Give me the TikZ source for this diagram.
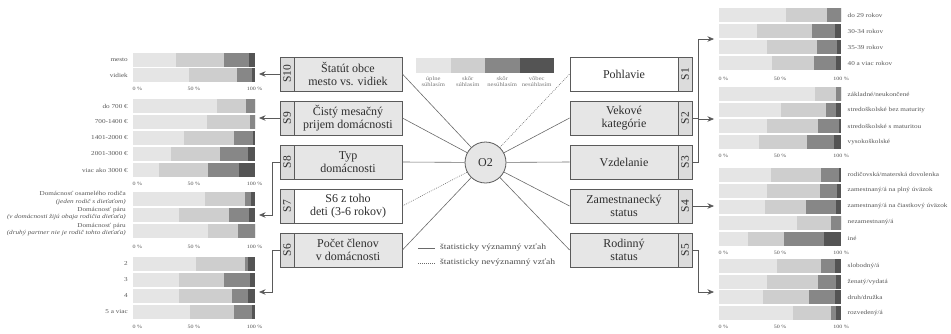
\documentclass[tikz,border=0pt]{standalone}
\usepackage{fontspec}
\usepackage{graphicx}
\setmainfont{Liberation Serif}
\newfontfamily\smallfont[FakeStretch=1.2]{Liberation Serif}
\usetikzlibrary{arrows.meta}
\definecolor{cA}{HTML}{E5E5E5}
\definecolor{cB}{HTML}{CECECE}
\definecolor{cC}{HTML}{878787}
\definecolor{cD}{HTML}{545454}
\definecolor{boxfill}{HTML}{E6E6E6}
\definecolor{colfill}{HTML}{DCDCDC}
\definecolor{edge}{HTML}{5A5A5A}
\definecolor{txt}{HTML}{2E2E2E}
\definecolor{lbl}{HTML}{555555}
\definecolor{lnk}{HTML}{6A6A6A}

\newcommand{\statbar}[7]{%
 \pgfmathsetmacro\sbA{#1+#2*#4/100}%
 \pgfmathsetmacro\sbB{\sbA+#2*#5/100}%
 \pgfmathsetmacro\sbC{\sbB+#2*#6/100}%
 \fill[cA] (#1,#3-7) rectangle (\sbA,#3+7);
 \fill[cB] (\sbA,#3-7) rectangle (\sbB,#3+7);
 \fill[cC] (\sbB,#3-7) rectangle (\sbC,#3+7);
 \fill[cD] (\sbC,#3-7) rectangle ({#1+#2},#3+7);
}
\newcommand{\axislab}[4]{%
 \node[axl,anchor=west] (#4a) at (#1-0.5,#3) {0 \%};
 \node[axl] (#4b) at ({#1+#2/2},#3) {50 \%};
 \node[axl] (#4c) at ({#1+#2},#3) {100 \%};
}
\newcommand{\leftlab}[3]{\node[rl,anchor=east] (#1) at (128,#2) {#3};}
\newcommand{\rightlab}[3]{\node[rl,anchor=west] (#1) at (847.5,#2) {#3};}

\begin{document}
\begin{tikzpicture}[x=1pt,y=-1pt,
  axl/.style={font=\smallfont\fontsize{5}{6}\selectfont,text=lbl,inner sep=0},
  rl/.style={font=\smallfont\fontsize{6}{7.5}\selectfont,text=lbl,inner sep=0},
  mainbox/.style={draw=edge,line width=0.8pt,fill=boxfill,minimum width=108pt,minimum height=34pt,inner sep=0,align=center,font=\fontsize{12}{13}\selectfont,text=txt},
  nsbox/.style={mainbox,fill=white},
  colbox/.style={draw=edge,line width=0.8pt,fill=colfill,minimum width=14pt,minimum height=34pt,inner sep=0,font=\fontsize{11.5}{12}\selectfont,text=txt},
  conn/.style={draw=lnk,line width=0.6pt},
  nsconn/.style={draw=lnk,line width=0.6pt,dash pattern=on 0.8pt off 1.2pt},
  arr/.style={draw=edge,line width=0.7pt,-{Stealth[length=6.5pt,width=5.5pt]}},
  keybox/.style={minimum width=34.5pt,minimum height=15pt,inner sep=0,outer sep=0},
  keylab/.style={font=\smallfont\fontsize{5.5}{5.8}\selectfont,text=lbl!80,align=center,inner sep=0},
  leg/.style={font=\smallfont\fontsize{8}{9}\selectfont,text=lbl!90!black,inner sep=0,anchor=west}]
\useasboundingbox (0,0) rectangle (951,333);

% ---------------- left charts ----------------
% S10
\statbar{133}{121.5}{59.5}{35}{40}{20.5}{4.5}
\statbar{133}{121.5}{75}{46}{40}{12}{2}
\leftlab{m1}{59.5}{mesto}
\leftlab{m2}{75}{vidiek}
\axislab{133}{121.5}{89}{ax10}
% S9
\statbar{133}{121.5}{106}{69}{24}{7}{0}
\statbar{133}{121.5}{122}{61}{35}{4}{0}
\statbar{133}{121.5}{138}{42}{41}{16}{1}
\statbar{133}{121.5}{154}{31}{41}{23}{5}
\statbar{133}{121.5}{170}{21.5}{40.5}{25.5}{12.5}
\leftlab{i1}{106}{do 700 €}
\leftlab{i2}{122}{700-1400 €}
\leftlab{i3}{138}{1401-2000 €}
\leftlab{i4}{154}{2001-3000 €}
\leftlab{i5}{170}{viac ako 3000 €}
\axislab{133}{121.5}{184}{ax9}
% S8
\statbar{133}{121.5}{199}{59.5}{32.5}{5}{3}
\statbar{133}{121.5}{215}{37.5}{41.5}{16.5}{4.5}
\statbar{133}{121.5}{231}{61.5}{25}{13.5}{0}
\node[rl,anchor=east,align=right] (h1) at (126,198) {Domácnosť osamelého rodiča\\\textit{(jeden rodič s dieťaťom)}};
\node[rl,anchor=east,align=right] (h2) at (126,213.5) {Domácnosť páru\\\textit{(v domácnosti žijú obaja rodičia dieťaťa)}};
\node[rl,anchor=east,align=right] (h3) at (126,229.5) {Domácnosť páru\\\textit{(druhý partner nie je rodič tohto dieťaťa)}};
\axislab{133}{121.5}{247}{ax8}
% S6
\statbar{133}{121.5}{264}{51.5}{40.5}{3}{5}
\statbar{133}{121.5}{280}{37.5}{37.5}{21.5}{3.5}
\statbar{133}{121.5}{296}{37.5}{44}{13.5}{5}
\statbar{133}{121.5}{312}{47}{36.5}{14.5}{2}
\leftlab{c1}{264}{2}
\leftlab{c2}{280}{3}
\leftlab{c3}{296}{4}
\leftlab{c4}{312}{5 a viac}
\axislab{133}{121.5}{327}{ax6}

% ---------------- right charts ----------------
% S2 age
\statbar{719}{122}{15}{55}{33.5}{11.5}{0}
\statbar{719}{122}{31}{31.5}{44.5}{19}{5}
\statbar{719}{122}{47}{39.5}{41}{16}{3.5}
\statbar{719}{122}{63}{43.5}{34}{18}{4.5}
\rightlab{g1}{15}{do 29 rokov}
\rightlab{g2}{31}{30-34 rokov}
\rightlab{g3}{47}{35-39 rokov}
\rightlab{g4}{63}{40 a viac rokov}
\axislab{719}{122}{79}{ax2}
% S3 education
\statbar{719}{122}{94}{79}{16.5}{4.5}{0}
\statbar{719}{122}{110}{50.5}{37}{8.5}{4}
\statbar{719}{122}{126}{39}{42.5}{17}{1.5}
\statbar{719}{122}{142}{32.5}{39.5}{22}{6}
\rightlab{e1}{94}{základné/neukončené}
\rightlab{e2}{110}{stredoškolské bez maturity}
\rightlab{e3}{126}{stredoškolské s maturitou}
\rightlab{e4}{142}{vysokoškolské}
\axislab{719}{122}{156}{ax3}
% S4 employment
\statbar{719}{122}{174.5}{43}{40.5}{15}{1.5}
\statbar{719}{122}{190.5}{39.5}{43}{14}{3.5}
\statbar{719}{122}{206.5}{37.5}{33.5}{25}{4}
\statbar{719}{122}{222.5}{64}{28}{8}{0}
\statbar{719}{122}{238.5}{24}{29.5}{32.5}{14}
\rightlab{z1}{174.5}{rodičovská/materská dovolenka}
\rightlab{z2}{190.5}{zamestnaný/á na plný úväzok}
\rightlab{z3}{206.5}{zamestnaný/á na čiastkový úväzok}
\rightlab{z4}{222.5}{nezamestnaný/á}
\rightlab{z5}{238.5}{iné}
\axislab{719}{122}{252.5}{ax4}
% S5 family
\statbar{719}{122}{266}{47.5}{36.5}{11}{5}
\statbar{719}{122}{281.7}{39.5}{41.5}{14.5}{4.5}
\statbar{719}{122}{297.3}{36}{37.5}{21.5}{5}
\statbar{719}{122}{313}{60.5}{31.5}{4}{4}
\rightlab{f1}{266}{slobodný/á}
\rightlab{f2}{281.7}{ženatý/vydatá}
\rightlab{f3}{297.3}{druh/družka}
\rightlab{f4}{313}{rozvedený/á}
\axislab{719}{122}{327}{ax5}

% ---------------- legend of answers ----------------
\node[keybox,fill=cA] (k1) at (433.25,65.5) {};
\node[keybox,fill=cB] (k2) at (467.75,65.5) {};
\node[keybox,fill=cC] (k3) at (502.25,65.5) {};
\node[keybox,fill=cD] (k4) at (536.75,65.5) {};
\node[keylab] (kl1) at (433.25,82) {úplne\\súhlasím};
\node[keylab] (kl2) at (467.75,82) {skôr\\súhlasím};
\node[keylab] (kl3) at (502.25,82) {skôr\\nesúhlasím};
\node[keylab] (kl4) at (536.75,82) {vôbec\\nesúhlasím};

% ---------------- boxes ----------------
\node[mainbox] (b10) at (348,74) {Štatút obce\\mesto vs. vidiek};
\node[colbox] (l10) at (287,74) {\rotatebox{90}{S10}};
\node[mainbox] (b9) at (348,118) {Čistý mesačný\\prijem domácnosti};
\node[colbox] (l9) at (287,118) {\rotatebox{90}{S9}};
\node[mainbox] (b8) at (348,162) {Typ\\domácnosti};
\node[colbox] (l8) at (287,162) {\rotatebox{90}{S8}};
\node[nsbox] (b7) at (348,206) {S6 z toho\\deti (3-6 rokov)};
\node[colbox] (l7) at (287,206) {\rotatebox{90}{S7}};
\node[mainbox] (b6) at (348,250) {Počet členov\\v domácnosti};
\node[colbox] (l6) at (287,250) {\rotatebox{90}{S6}};

\node[nsbox] (b1) at (624,74) {Pohlavie};
\node[colbox] (l1) at (685,74) {\rotatebox{90}{S1}};
\node[mainbox] (b2) at (624,118) {Vekové\\kategórie};
\node[colbox] (l2) at (685,118) {\rotatebox{90}{S2}};
\node[mainbox] (b3) at (624,162) {Vzdelanie};
\node[colbox] (l3) at (685,162) {\rotatebox{90}{S3}};
\node[mainbox] (b4) at (624,206) {Zamestnanecký\\status};
\node[colbox] (l4) at (685,206) {\rotatebox{90}{S4}};
\node[mainbox] (b5) at (624,250) {Rodinný\\status};
\node[colbox] (l5) at (685,250) {\rotatebox{90}{S5}};

\node[circle,draw=edge,line width=0.8pt,fill=boxfill,minimum size=41pt,inner sep=0,font=\fontsize{12}{12}\selectfont,text=txt] (o2) at (485.5,162.5) {O2};

% ---------------- connectors ----------------
\draw[conn] (o2) -- (b10.east);
\draw[conn] (o2) -- (b9.east);
\draw[conn] (o2) -- (b8.east);
\draw[nsconn] (o2) -- (b7.east);
\draw[conn] (o2) -- (b6.east);
\draw[nsconn] (o2) -- (b1.west);
\draw[conn] (o2) -- (b2.west);
\draw[conn] (o2) -- (b3.west);
\draw[conn] (o2) -- (b4.west);
\draw[conn] (o2) -- (b5.west);

% ---------------- arrows to charts ----------------
\coordinate (t10) at (259,74);
\coordinate (t9) at (259,118);
\coordinate (t8) at (259,215);
\coordinate (t6) at (259,292);
\coordinate (t2) at (714,39);
\coordinate (t3) at (714,119);
\coordinate (t4) at (714,206);
\coordinate (t5) at (714,292);
\draw[arr] (l10.west) -- (t10);
\draw[arr] (l9.west) -- (t9);
\draw[arr] (l8.west) -- ++(-7,0) |- (t8);
\draw[arr] (l6.west) -- ++(-7,0) |- (t6);
\draw[arr] (l2.east) -- ++(6,0) |- (t2);
\draw[arr] (l3.east) -- ++(6,0) |- (t3);
\draw[arr] (l4.east) -- (t4);
\draw[arr] (l5.east) -- ++(6,0) |- (t5);

% ---------------- line legend ----------------
\coordinate (ls1) at (418,248);
\coordinate (ls2) at (435,248);
\coordinate (ln1) at (418,263);
\coordinate (ln2) at (435,263);
\draw[conn] (ls1) -- (ls2);
\draw[nsconn] (ln1) -- (ln2);
\node[leg] (lt1) at (440,248) {štatisticky významný vzťah};
\node[leg] (lt2) at (440,263) {štatisticky nevýznamný vzťah};
\end{tikzpicture}
\end{document}
